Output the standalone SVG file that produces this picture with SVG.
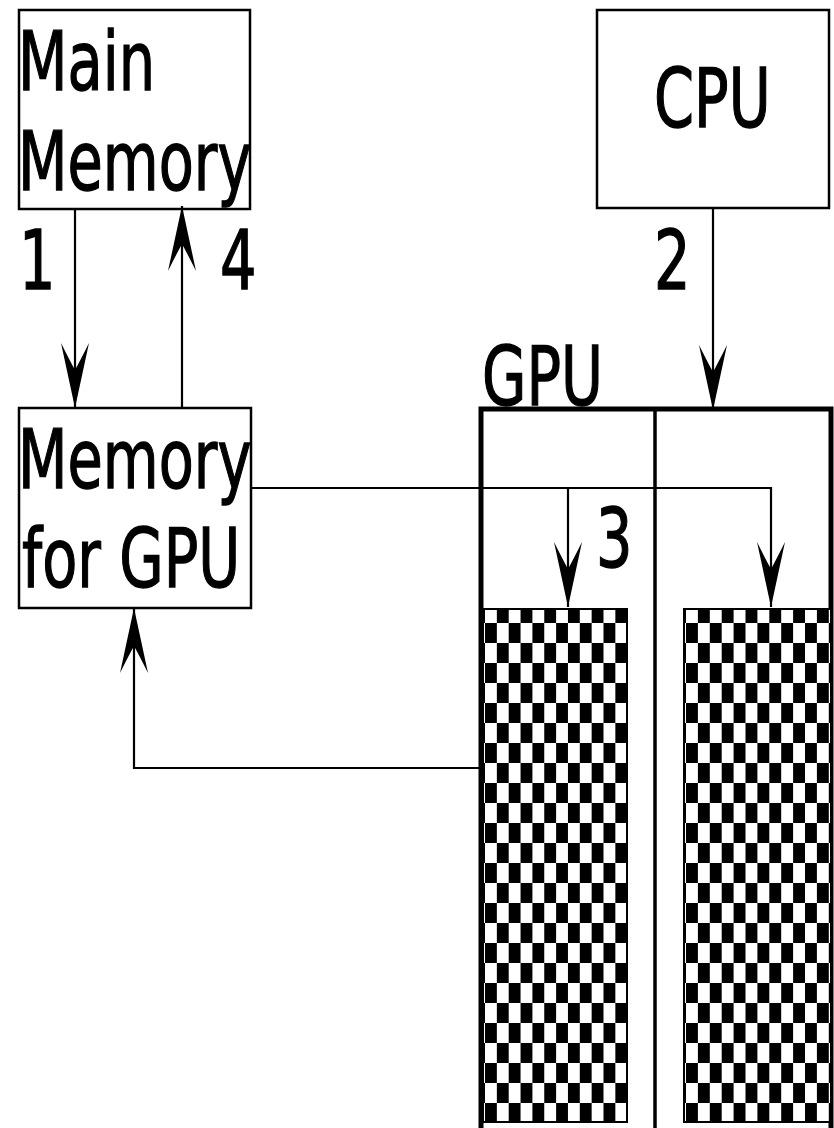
<svg xmlns="http://www.w3.org/2000/svg" width="834" height="1128" viewBox="0 0 834 1128">
<style>
.box{fill:#fff;stroke:#000;stroke-width:2.5}
.lbl{font-family:"DejaVu Sans","Liberation Sans",sans-serif;font-size:82px;fill:#000;stroke:#000;stroke-width:1.4}
.con{fill:none;stroke:#000;stroke-width:2.2}
</style>
<defs>
<marker id="ah" viewBox="-68 -16 70 32" refX="0" refY="0" markerWidth="70" markerHeight="32" markerUnits="userSpaceOnUse" orient="auto">
<path d="M0,0 L-65,-14 Q-47,-5 -38,0 Q-47,5 -65,14 Z" fill="#000"/>
</marker>
<pattern id="chkL" x="485" y="603" width="23.7" height="40" patternUnits="userSpaceOnUse">
<rect width="23.7" height="40" fill="#fff"/>
<rect x="11.85" y="0" width="11.85" height="20" fill="#000"/>
<rect x="0" y="20" width="11.85" height="20" fill="#000"/>
</pattern>
<pattern id="chkR" x="686" y="603" width="23.8" height="40" patternUnits="userSpaceOnUse">
<rect width="23.8" height="40" fill="#fff"/>
<rect x="11.9" y="0" width="11.9" height="20" fill="#000"/>
<rect x="0" y="20" width="11.9" height="20" fill="#000"/>
</pattern>
</defs>
<rect width="834" height="1128" fill="#fff"/>

<g id="main-memory">
<rect class="box" x="19" y="10" width="231" height="199"/>
<text class="lbl" transform="translate(18,90) scale(0.7,1)">Main</text>
<text class="lbl" transform="translate(18,190) scale(0.7,1)">Memory</text>
</g>

<g id="cpu">
<rect class="box" x="597" y="10" width="232" height="198"/>
<text class="lbl" transform="translate(654,127) scale(0.7,1)">CPU</text>
</g>

<g id="memory-for-gpu">
<rect class="box" x="19" y="408" width="232" height="200"/>
<text class="lbl" transform="translate(18,488) scale(0.7,1)">Memory</text>
<text class="lbl" transform="translate(22,587) scale(0.7,1)">for GPU</text>
</g>

<g id="gpu">
<rect x="481" y="409" width="350" height="740" fill="#fff" stroke="#000" stroke-width="5"/>
<line x1="655" y1="409" x2="655" y2="1130" stroke="#000" stroke-width="3.5"/>
<rect x="483" y="609" width="144" height="513" fill="url(#chkL)" stroke="#000" stroke-width="2"/>
<rect x="684" y="609" width="147" height="513" fill="url(#chkR)" stroke="#000" stroke-width="2"/>
<text class="lbl" transform="translate(482,405) scale(0.7,1)">GPU</text>
</g>

<g id="connectors">
<path class="con" d="M75,209 L75,408" marker-end="url(#ah)"/>
<path class="con" d="M182,408 L182,206" marker-end="url(#ah)"/>
<path class="con" d="M713,208 L713,410" marker-end="url(#ah)"/>
<path class="con" d="M251,488 L771,488 L771,607" marker-end="url(#ah)"/>
<path class="con" d="M568,488 L568,607" marker-end="url(#ah)"/>
<path class="con" d="M482,768 L134,768 L134,608" marker-end="url(#ah)"/>
</g>

<g id="labels">
<text class="lbl" transform="translate(19,289) scale(0.7,1)">1</text>
<text class="lbl" transform="translate(220,289) scale(0.7,1)">4</text>
<text class="lbl" transform="translate(654,289) scale(0.7,1)">2</text>
<text class="lbl" transform="translate(596,567) scale(0.7,1)">3</text>
</g>
</svg>
